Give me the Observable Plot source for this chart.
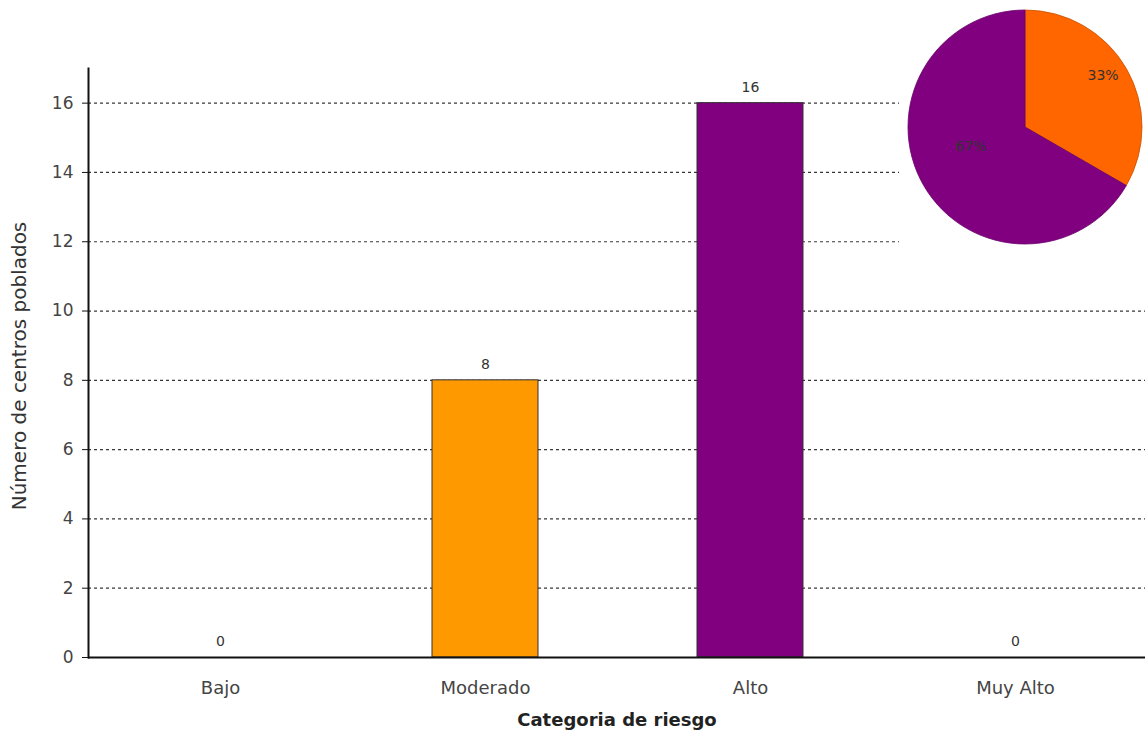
<!DOCTYPE html>
<html><head><meta charset="utf-8">
<script src="https://cdn.jsdelivr.net/npm/d3@7"></script>
<script src="https://cdn.jsdelivr.net/npm/@observablehq/plot@0.6"></script>
<style>body{margin:0;background:#fff} svg{display:block}</style>
</head><body><div id="chart"></div>
<script>
const categories = ["Bajo", "Moderado", "Alto", "Muy Alto"];
const counts = [0, 8, 16, 0];
const barColors = ["#FF9900", "#FF9900", "#800080", "#800080"];
const yTicks = [0, 2, 4, 6, 8, 10, 12, 14, 16];
const pieCategories = ["Moderado", "Alto"];
const pieValues = [8, 16];
const pieColors = ["#FF6600", "#800080"];
const pieStrokes = ["#c85000", "#6a006a"];

const data = categories.map((c, i) => ({cat: c, n: counts[i], color: barColors[i]}));
const font = "'DejaVu Sans', Verdana, sans-serif";

const chart = Plot.plot({
  width: 1145, height: 732,
  marginLeft: 88, marginRight: 0, marginTop: 68, marginBottom: 75,
  style: {fontFamily: font, fontSize: "14px", color: "#333", background: "#fff"},
  x: {domain: categories, range: [86, 1149], paddingInner: 0.6, paddingOuter: 0.3, label: null},
  y: {domain: [0, 17], label: null},
  marks: [
    Plot.gridY(yTicks.slice(1), {stroke: "#222", strokeOpacity: 0.9, strokeDasharray: "3,3", strokeWidth: 1.2}),
    Plot.barY(data.filter(d => d.n > 0), {x: "cat", y: "n", fill: d => d.color, stroke: "#333", strokeWidth: 1}),
    Plot.text(data, {x: "cat", y: "n", text: d => String(d.n), dy: -16, fontSize: 14, fill: "#333"}),
    Plot.axisY(yTicks, {tickSize: 6, tickPadding: 9, fontSize: 17, stroke: "#111", fill: "#444", label: null}),
    Plot.axisX({tickSize: 0, tickPadding: 24, fontSize: 18, fill: "#444", label: null}),
    Plot.ruleY([0], {stroke: "#111", strokeWidth: 2}),
    Plot.frame({anchor: "left", stroke: "#111", strokeWidth: 2}),
    Plot.text(["Número de centros poblados"], {frameAnchor: "left", textAnchor: "middle", lineAnchor: "middle", dx: -69, dy: 3, rotate: -90, fontSize: 20, fill: "#333"}),
    Plot.text(["Categoria de riesgo"], {frameAnchor: "bottom", textAnchor: "middle", lineAnchor: "middle", dy: 63, fontSize: 18, fontWeight: "bold", fill: "#222"})
  ]
});
document.getElementById("chart").appendChild(chart);

// Pie inset
const svg = d3.select(chart);
const g = svg.append("g");
g.append("rect").attr("x", 899).attr("y", 0).attr("width", 246).attr("height", 250).attr("fill", "#fff");
const cx = 1025, cy = 127, r = 117;
const pie = d3.pie().sort(null)(pieValues);
const total = d3.sum(pieValues);
const arc = d3.arc().innerRadius(0).outerRadius(r);
const pg = g.append("g").attr("transform", `translate(${cx},${cy})`);
pg.selectAll("path").data(pie).join("path")
  .attr("d", arc)
  .attr("fill", (d, i) => pieColors[i])
  .attr("stroke", (d, i) => pieStrokes[i])
  .attr("stroke-width", 0.8);
const labelRadius = [0.8, 0.49];
const labelAngleShift = [-0.06, 0.19];
pg.selectAll("text").data(pie).join("text")
  .attr("transform", (d, i) => {
    const a = (d.startAngle + d.endAngle) / 2 + labelAngleShift[i];
    const rr = r * labelRadius[i];
    return `translate(${Math.sin(a) * rr},${-Math.cos(a) * rr})`;
  })
  .attr("text-anchor", "middle").attr("dy", "0.35em")
  .attr("font-family", font).attr("font-size", 14).attr("fill", "#333")
  .text(d => Math.round(d.value / total * 100) + "%");
</script>
</body></html>
